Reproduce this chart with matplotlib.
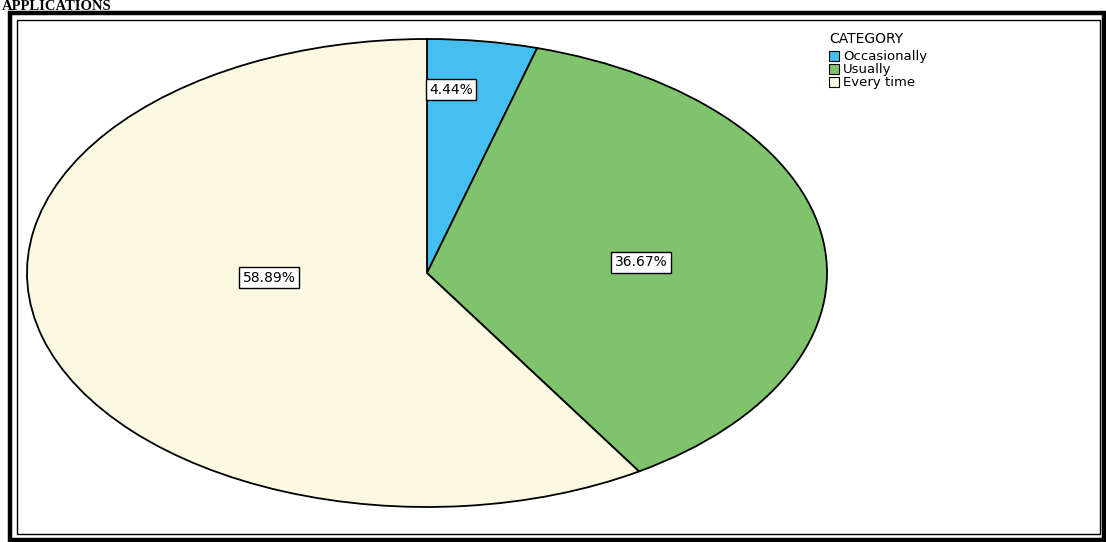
import matplotlib
matplotlib.use("Agg")
import matplotlib.pyplot as plt
from matplotlib.patches import Rectangle, Patch
import numpy as np

W, H = 1106, 542
OUT = "out.png"

categories = ["Occasionally", "Usually", "Every time"]
percents = [4.44, 36.67, 58.89]
colors = ["#45bff0", "#7fc46c", "#fbf9e2"]
# label spots as fraction of radius along each wedge's mid-angle
label_dist = [0.79, 0.54, 0.40]
label_shift = [(-0.05, 0.0), (0.0, -0.03), (-0.01, 0.09)]

fig = plt.figure(figsize=(W / 100, H / 100), dpi=100)


def box(x0, y0, x1, y1):
    # pixel box (top-left origin) -> figure fraction rect
    return [x0 / W, 1 - y1 / H, (x1 - x0) / W, (y1 - y0) / H]


# pie stretched into an ellipse, like the SPSS output
ax = fig.add_axes(box(27, 39, 827, 507))
wedges, _ = ax.pie(percents, colors=colors, startangle=90, counterclock=False,
                   radius=1.0, wedgeprops=dict(edgecolor="black", linewidth=1.3))
ax.set_aspect("auto")
ax.set_xlim(-1, 1)
ax.set_ylim(-1, 1)
ax.axis("off")

start = 90.0
for p, d, (sx, sy) in zip(percents, label_dist, label_shift):
    sweep = 360 * p / 100
    mid = np.deg2rad(start - sweep / 2)
    start -= sweep
    ax.text(d * np.cos(mid) + sx, d * np.sin(mid) + sy, f"{p:.2f}%",
            ha="center", va="center", fontsize=10, family="DejaVu Sans",
            bbox=dict(boxstyle="square,pad=0.25", fc="white", ec="black", lw=1.0))

handles = [Patch(facecolor=c, edgecolor="black", linewidth=0.8) for c in colors]
leg = fig.legend(handles, categories, title="CATEGORY", loc="upper left",
                 bbox_to_anchor=(820 / W, 1 - 23 / H), frameon=False,
                 fontsize=9.5, title_fontsize=10, handlelength=0.75, handleheight=0.75,
                 handletextpad=0.3, labelspacing=0.0, borderpad=0.2)
leg._legend_box.align = "left"
leg._legend_box.sep = 3

# double frame around the chart
fig.add_artist(Rectangle((10 / W, 1 - 540 / H), 1094 / W, 527 / H,
                         transform=fig.transFigure, fill=False, ec="black", lw=3.2))
fig.add_artist(Rectangle((17 / W, 1 - 534 / H), 1083 / W, 514 / H,
                         transform=fig.transFigure, fill=False, ec="black", lw=1.0))

# section heading at the top of the scan
fig.text(2 / W, 1 - 10 / H, "APPLICATIONS", ha="left", va="baseline",
         fontsize=10.5, fontweight="bold", family="Liberation Serif")

fig.savefig(OUT, dpi=100)
